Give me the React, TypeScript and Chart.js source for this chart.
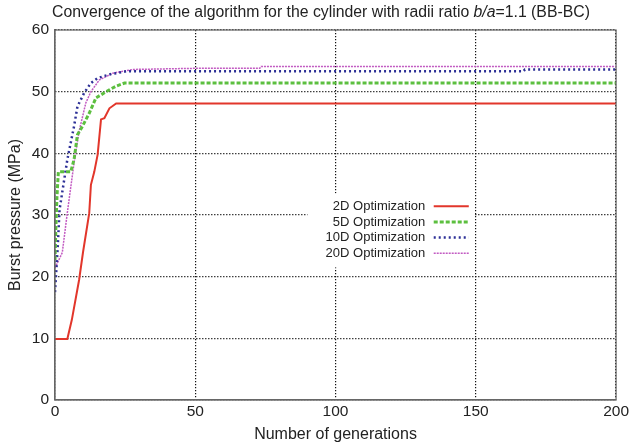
import React, { useEffect, useRef } from "react";
import { Chart, registerables } from "chart.js";

Chart.register(...registerables);

const titleParts = ["Convergence of the algorithm for the cylinder with radii ratio ", "b/a", "=1.1 (BB-BC)"];
const xTitle = "Number of generations";
const yTitle = "Burst pressure (MPa)";
const seriesNames = ["2D Optimization", "5D Optimization", "10D Optimization", "20D Optimization"];

const gen2D = [0, 4.4, 6, 8.6, 10, 12.2, 12.8, 14, 15.2, 16.4, 17.6, 19.4, 21.8, 200];
const val2D = [9.9, 9.9, 13, 19.5, 24, 30.3, 34.9, 37, 39.8, 45.5, 45.7, 47.3, 48.1, 48.1];

const gen5D = [0, 0.3, 0.7, 1.2, 5.6, 6.8, 8, 9.8, 12.2, 14.6, 19.4, 21.8, 24.8, 200];
const val5D = [22.7, 27.6, 33, 37, 37, 39, 43, 44.4, 46.5, 49, 50.3, 50.9, 51.4, 51.4];

const gen10D = [0, 1, 1.6, 4.4, 6.8, 8, 10.4, 12.8, 15.2, 19.4, 25.4, 167, 167.5, 200];
const val10D = [17.5, 25, 30.8, 39, 44.4, 47.6, 49.8, 51.4, 52.2, 52.8, 53.3, 53.3, 53.6, 53.6];

const gen20D = [0, 2.6, 4.4, 6.8, 8.6, 11, 12.8, 15.8, 20.6, 27.7, 51.8, 73, 73.5, 200];
const val20D = [21.4, 23.9, 30.4, 38.5, 43.6, 48.2, 50, 51.9, 53, 53.6, 53.8, 53.8, 54.1, 54.1];

const colors = ["#e2362b", "#5cbf3f", "#2c2f96", "#c25bc2"];
const widths = [2, 3, 2.5, 1.5];
const dashes: number[][] = [[], [4, 2], [2, 3], [2, 1]];

const FONT = "'Liberation Sans', Arial, Helvetica, sans-serif";

function pts(xs: number[], ys: number[]) {
  return xs.map((x, i) => ({ x, y: ys[i] }));
}

const titlePlugin = {
  id: "customTitle",
  afterDraw(chart: any) {
    const ctx = chart.ctx;
    ctx.save();
    ctx.fillStyle = "#222";
    ctx.textBaseline = "middle";
    const fs = 15.8;
    const normal = `${fs}px ${FONT}`;
    const italic = `italic ${fs}px ${FONT}`;
    const fonts = [normal, italic, normal];
    let total = 0;
    const ws = titleParts.map((t, i) => {
      ctx.font = fonts[i];
      const w = ctx.measureText(t).width;
      total += w;
      return w;
    });
    let x = 321 - total / 2;
    titleParts.forEach((t, i) => {
      ctx.font = fonts[i];
      ctx.textAlign = "left";
      ctx.fillText(t, x, 12.5);
      x += ws[i];
    });
    ctx.restore();
  },
};

const legendPlugin = {
  id: "customLegend",
  beforeDatasetsDraw(chart: any) {
    const ctx = chart.ctx;
    const xs = chart.scales.x;
    const ys = chart.scales.y;
    ctx.save();
    const left = xs.getPixelForValue(90);
    const right = xs.getPixelForValue(150) - 1.5;
    const top = ys.getPixelForValue(33.5);
    const bottom = ys.getPixelForValue(21.5);
    ctx.fillStyle = "#ffffff";
    ctx.fillRect(left, top, right - left, bottom - top);
    const textRight = xs.getPixelForValue(132);
    const lineL = xs.getPixelForValue(135);
    const lineR = xs.getPixelForValue(147.5);
    const rowY0 = ys.getPixelForValue(31.4);
    const rowH = 15.6;
    ctx.font = `13px ${FONT}`;
    ctx.textAlign = "right";
    ctx.textBaseline = "middle";
    seriesNames.forEach((n, i) => {
      const y = rowY0 + i * rowH;
      ctx.fillStyle = "#222";
      ctx.fillText(n, textRight, y);
      ctx.strokeStyle = colors[i];
      ctx.lineWidth = widths[i];
      ctx.setLineDash(dashes[i]);
      ctx.beginPath();
      ctx.moveTo(lineL, y);
      ctx.lineTo(lineR, y);
      ctx.stroke();
    });
    ctx.restore();
  },
};

export default function App() {
  const ref = useRef<HTMLCanvasElement>(null);
  useEffect(() => {
    if (!ref.current) return;
    const series = [pts(gen2D, val2D), pts(gen5D, val5D), pts(gen10D, val10D), pts(gen20D, val20D)];
    const chart = new Chart(ref.current, {
      type: "line",
      data: {
        datasets: series.map((d, i) => ({
          label: seriesNames[i],
          data: d,
          borderColor: colors[i],
          borderWidth: widths[i],
          borderDash: dashes[i],
          pointRadius: 0,
          tension: 0,
          fill: false,
        })),
      },
      options: {
        responsive: false,
        animation: false,
        devicePixelRatio: 1,
        layout: { padding: { top: 30, right: 14, left: 0, bottom: 0 } },
        plugins: {
          legend: { display: false },
          title: { display: false },
          tooltip: { enabled: false },
        },
        scales: {
          x: {
            type: "linear",
            min: 0,
            max: 200,
            ticks: { stepSize: 50, color: "#222", font: { family: FONT, size: 15.5 }, padding: 2, maxRotation: 0 },
            grid: { color: "#111", lineWidth: 1.2, drawTicks: false, tickLength: 0 },
            border: { display: true, color: "#666", width: 1.2, dash: [1.2, 1.8] },
            title: { display: true, text: xTitle, color: "#222", font: { family: FONT, size: 16 }, padding: { top: 4, bottom: 0 } },
            afterFit: (s: any) => { s.height = 44; },
          },
          y: {
            min: 0,
            max: 60,
            ticks: { stepSize: 10, color: "#222", font: { family: FONT, size: 15.5 }, padding: 6 },
            grid: { color: "#111", lineWidth: 1.2, drawTicks: false, tickLength: 0 },
            border: { display: true, color: "#666", width: 1.2, dash: [1.2, 1.8] },
            title: { display: true, text: yTitle, color: "#222", font: { family: FONT, size: 16 }, padding: { top: 6, bottom: 2 } },
            afterFit: (s: any) => { s.width = 55; },
          },
        },
      },
      plugins: [legendPlugin, titlePlugin, {
        id: "frame",
        afterDatasetsDraw(chart: any) {
          const { ctx, chartArea: a } = chart;
          ctx.save();
          ctx.strokeStyle = "#666";
          ctx.lineWidth = 1.2;
          ctx.setLineDash([]);
          ctx.strokeRect(a.left, a.top, a.right - a.left, a.bottom - a.top);
          ctx.restore();
        },
      }],
    } as any);
    return () => chart.destroy();
  }, []);
  return (
    <div style={{ position: "absolute", left: 0, top: 0, width: 631, height: 444, background: "#fff" }}>
      <canvas ref={ref} width={631} height={444} style={{ width: 631, height: 444, display: "block" }} />
    </div>
  );
}
